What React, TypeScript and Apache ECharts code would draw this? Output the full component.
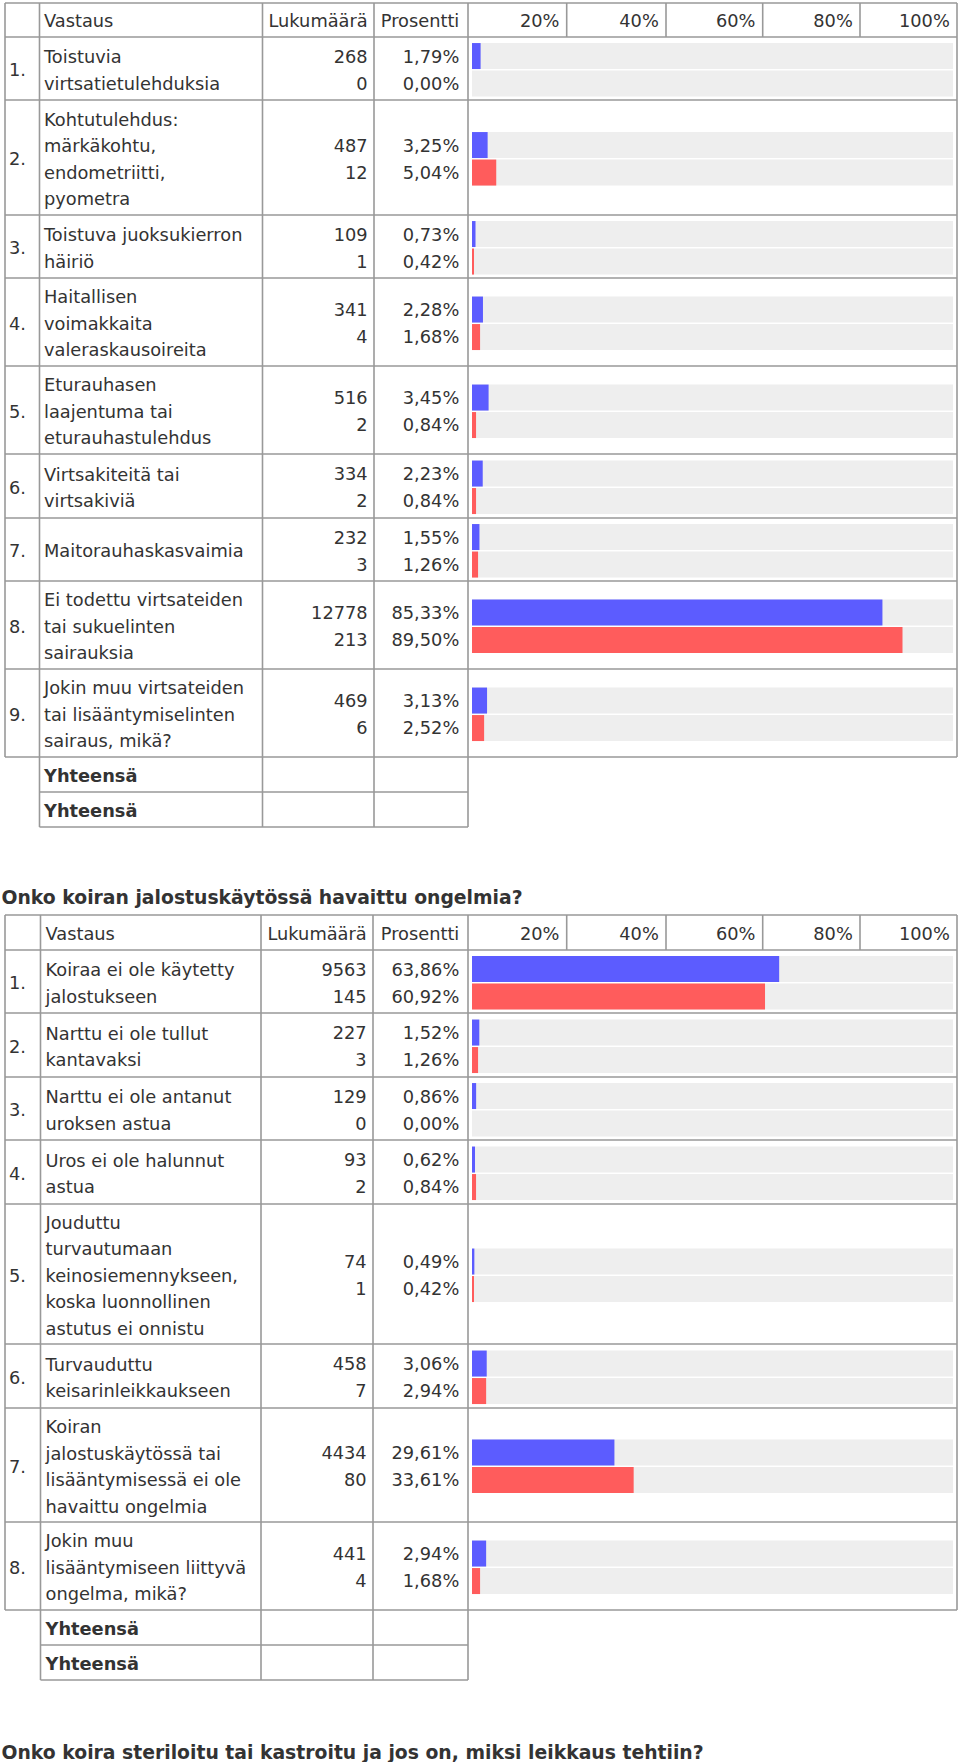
import React, { useEffect, useRef } from 'react';
import * as echarts from 'echarts';

// ---------- DATA ----------
const title1 = 'Onko koiran jalostuskäytössä havaittu ongelmia?';
const title2 = 'Onko koira steriloitu tai kastroitu ja jos on, miksi leikkaus tehtiin?';
const headerLabels = ['Vastaus', 'Lukumäärä', 'Prosentti'];
const scaleLabels = ['20%', '40%', '60%', '80%', '100%'];
const totalLabel = 'Yhteensä';

const t1Labels: string[][] = [
  ['Toistuvia', 'virtsatietulehduksia'],
  ['Kohtutulehdus:', 'märkäkohtu,', 'endometriitti,', 'pyometra'],
  ['Toistuva juoksukierron', 'häiriö'],
  ['Haitallisen', 'voimakkaita', 'valeraskausoireita'],
  ['Eturauhasen', 'laajentuma tai', 'eturauhastulehdus'],
  ['Virtsakiteitä tai', 'virtsakiviä'],
  ['Maitorauhaskasvaimia'],
  ['Ei todettu virtsateiden', 'tai sukuelinten', 'sairauksia'],
  ['Jokin muu virtsateiden', 'tai lisääntymiselinten', 'sairaus, mikä?'],
];
const t1CountsA = [268, 487, 109, 341, 516, 334, 232, 12778, 469];
const t1CountsB = [0, 12, 1, 4, 2, 2, 3, 213, 6];
const t1PctA = [1.79, 3.25, 0.73, 2.28, 3.45, 2.23, 1.55, 85.33, 3.13];
const t1PctB = [0.0, 5.04, 0.42, 1.68, 0.84, 0.84, 1.26, 89.5, 2.52];

const t2Labels: string[][] = [
  ['Koiraa ei ole käytetty', 'jalostukseen'],
  ['Narttu ei ole tullut', 'kantavaksi'],
  ['Narttu ei ole antanut', 'uroksen astua'],
  ['Uros ei ole halunnut', 'astua'],
  ['Jouduttu', 'turvautumaan', 'keinosiemennykseen,', 'koska luonnollinen', 'astutus ei onnistu'],
  ['Turvauduttu', 'keisarinleikkaukseen'],
  ['Koiran', 'jalostuskäytössä tai', 'lisääntymisessä ei ole', 'havaittu ongelmia'],
  ['Jokin muu', 'lisääntymiseen liittyvä', 'ongelma, mikä?'],
];
const t2CountsA = [9563, 227, 129, 93, 74, 458, 4434, 441];
const t2CountsB = [145, 3, 0, 2, 1, 7, 80, 4];
const t2PctA = [63.86, 1.52, 0.86, 0.62, 0.49, 3.06, 29.61, 2.94];
const t2PctB = [60.92, 1.26, 0.0, 0.84, 0.42, 2.94, 33.61, 1.68];

// ---------- LAYOUT ----------
const L1 = {
  headTop: 3,
  rows: [37, 100, 215, 278, 366, 454, 518, 581, 669, 757],
  totals: [757, 792, 827],
  cols: [5, 39.5, 262.5, 374, 468],
  textX: 44,
  countR: 367.7,
  pctR: 459.3,
  titleY: 897,
};
const L2 = {
  headTop: 915,
  rows: [950, 1013, 1077, 1140, 1204, 1344, 1408, 1522, 1610],
  totals: [1610, 1645, 1680],
  cols: [5, 40.5, 261, 373, 468],
  textX: 45.5,
  countR: 366.7,
  pctR: 459.3,
  titleY: 1752,
};
const scaleCols = [468, 566.7, 666, 762.7, 860, 957];
const BAR_LEFT = 472;
const BAR_RIGHT = 953;
const LINE_H = 26.5;
const FS = 17.8;
const FONT = 'DejaVu Sans';
const TEXT = '#333333';
const BORDER = '#999999';
const BLUE = '#5c5cff';
const RED = '#ff5c5c';
const TRACK = '#eeeeee';

const fmtPct = (v: number) => v.toFixed(2).replace('.', ',') + '%';

function buildTable(
  labels: string[][],
  countsA: number[],
  countsB: number[],
  pctA: number[],
  pctB: number[],
  L: typeof L1,
  title: string,
  graphics: any[],
  grids: any[],
  xAxes: any[],
  yAxes: any[],
  series: any[]
) {
  const text = (t: string, x: number, y: number, align: string, bold = false, size = FS) =>
    graphics.push({
      type: 'text',
      x,
      y,
      silent: true,
      style: {
        text: t,
        fill: TEXT,
        fontFamily: FONT,
        fontSize: size,
        fontWeight: bold ? 'bold' : 'normal',
        align,
        verticalAlign: 'middle',
      },
    });
  const line = (x1: number, y1: number, x2: number, y2: number) =>
    graphics.push({
      type: 'line',
      silent: true,
      shape: { x1, y1, x2, y2 },
      style: { stroke: BORDER, lineWidth: 1.6 },
    });

  const rows = L.rows;
  const last = rows[rows.length - 1];
  const right = scaleCols[scaleCols.length - 1];

  // borders
  line(L.cols[0], L.headTop, right, L.headTop);
  rows.forEach((y) => line(L.cols[0], y, right, y));
  L.cols.forEach((x) => line(x, L.headTop, x, last));
  line(right, L.headTop, right, last);
  scaleCols.slice(1, -1).forEach((x) => line(x, L.headTop, x, rows[0]));
  L.totals.slice(1).forEach((y) => line(L.cols[1], y, L.cols[4], y));
  L.cols.slice(1).forEach((x) => line(x, L.totals[0], x, L.totals[2]));

  // header
  const hy = (L.headTop + rows[0]) / 2 + 0.8;
  text(headerLabels[0], L.textX, hy, 'left');
  text(headerLabels[1], L.countR, hy, 'right');
  text(headerLabels[2], L.pctR, hy, 'right');
  scaleLabels.forEach((s, i) => text(s, scaleCols[i + 1] - 7.2, hy, 'right'));

  // rows
  labels.forEach((lines, i) => {
    const c = (rows[i] + rows[i + 1]) / 2 + 1.3;
    text(`${i + 1}.`, 9, c, 'left');
    lines.forEach((ln, j) => text(ln, L.textX, c + (j - (lines.length - 1) / 2) * LINE_H, 'left'));
    text(String(countsA[i]), L.countR, c - 13.6, 'right');
    text(String(countsB[i]), L.countR, c + 13.6, 'right');
    text(fmtPct(pctA[i]), L.pctR, c - 13.6, 'right');
    text(fmtPct(pctB[i]), L.pctR, c + 13.6, 'right');

    const k = grids.length;
    grids.push({ left: BAR_LEFT, width: BAR_RIGHT - BAR_LEFT, top: c - 27.5, height: 55, containLabel: false });
    xAxes.push({ type: 'value', gridIndex: k, min: 0, max: 100, show: false });
    yAxes.push({ type: 'category', gridIndex: k, data: ['A', 'B'], inverse: true, show: false });
    series.push({
      type: 'bar',
      xAxisIndex: k,
      yAxisIndex: k,
      barWidth: 26,
      silent: true,
      showBackground: true,
      backgroundStyle: { color: TRACK },
      data: [
        { value: pctA[i], itemStyle: { color: BLUE } },
        { value: pctB[i], itemStyle: { color: RED } },
      ],
    });
  });

  // totals
  text(totalLabel, L.textX, (L.totals[0] + L.totals[1]) / 2 + 0.7, 'left', true);
  text(totalLabel, L.textX, (L.totals[1] + L.totals[2]) / 2 + 0.7, 'left', true);

  // title below the table
  text(title, 1.5, L.titleY, 'left', true, 18.8);
}

export default function App() {
  const ref = useRef<HTMLDivElement>(null);
  useEffect(() => {
    document.body.style.margin = '0';
    if (!ref.current) return;
    const chart = echarts.init(ref.current, undefined, { renderer: 'svg' });
    const graphics: any[] = [];
    const grids: any[] = [];
    const xAxes: any[] = [];
    const yAxes: any[] = [];
    const series: any[] = [];
    buildTable(t1Labels, t1CountsA, t1CountsB, t1PctA, t1PctB, L1, title1, graphics, grids, xAxes, yAxes, series);
    buildTable(t2Labels, t2CountsA, t2CountsB, t2PctA, t2PctB, L2, title2, graphics, grids, xAxes, yAxes, series);
    chart.setOption({
      animation: false,
      backgroundColor: '#ffffff',
      grid: grids,
      xAxis: xAxes,
      yAxis: yAxes,
      series,
      graphic: { elements: graphics },
    });
    return () => chart.dispose();
  }, []);
  return <div ref={ref} style={{ width: 960, height: 1762 }} />;
}
